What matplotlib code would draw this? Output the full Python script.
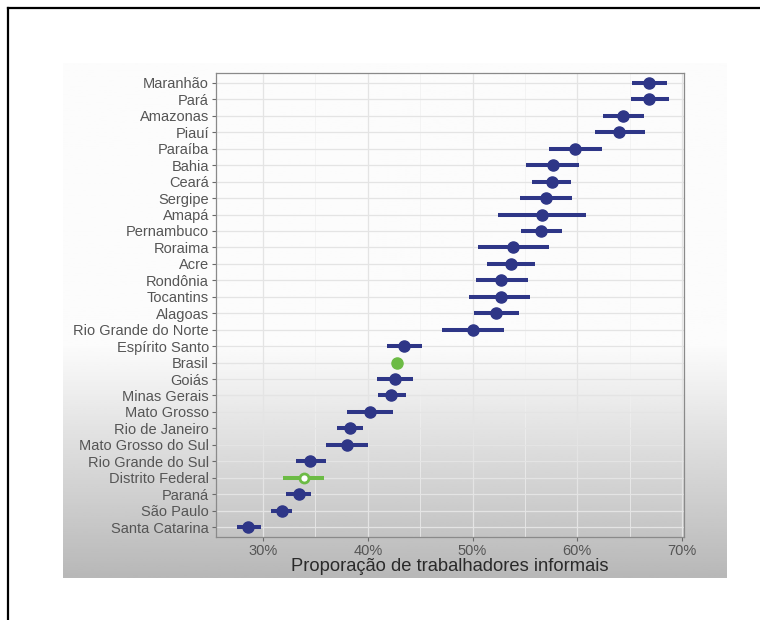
import numpy as np
import matplotlib
matplotlib.use("Agg")
import matplotlib.pyplot as plt
from matplotlib.ticker import FuncFormatter, MultipleLocator
from matplotlib.lines import Line2D

plt.rcParams['font.family'] = ['Liberation Sans', 'DejaVu Sans']

# estados, de cima para baixo
estados = ["Maranhão", "Pará", "Amazonas", "Piauí", "Paraíba", "Bahia", "Ceará",
           "Sergipe", "Amapá", "Pernambuco", "Roraima", "Acre", "Rondônia",
           "Tocantins", "Alagoas", "Rio Grande do Norte", "Espírito Santo",
           "Brasil", "Goiás", "Minas Gerais", "Mato Grosso", "Rio de Janeiro",
           "Mato Grosso do Sul", "Rio Grande do Sul", "Distrito Federal",
           "Paraná", "São Paulo", "Santa Catarina"]
# proporcao de informais (%) e intervalo
prop = [66.9, 66.9, 64.4, 64.0, 59.8, 57.7, 57.6, 57.0, 56.6, 56.5, 53.9, 53.7,
        52.7, 52.7, 52.2, 50.0, 43.5, 42.8, 42.6, 42.2, 40.2, 38.3, 38.0, 34.5,
        33.9, 33.4, 31.8, 28.6]
lim_inf = [65.2, 65.1, 62.5, 61.7, 57.3, 55.1, 55.7, 54.5, 52.4, 54.6, 50.5, 51.4,
           50.3, 49.7, 50.1, 47.1, 41.8, 42.7, 40.9, 41.0, 38.0, 37.1, 36.0, 33.1,
           31.9, 32.2, 30.8, 27.5]
lim_sup = [68.6, 68.8, 66.4, 66.5, 62.4, 60.2, 59.4, 59.5, 60.8, 58.5, 57.3, 56.0,
           55.3, 55.5, 54.4, 53.0, 45.2, 42.9, 44.3, 43.6, 42.4, 39.5, 40.0, 36.0,
           35.8, 34.6, 32.8, 29.8]
destaque = ["Brasil", "Distrito Federal"]

W, H = 760, 620
fig = plt.figure(figsize=(7.6, 6.2), dpi=100)
fig.patch.set_facecolor("white")

# fundo da captura de tela (degradê cinza)
bg = fig.add_axes([63 / W, 1 - 578 / H, (727 - 63) / W, (578 - 63) / H])
grad = np.concatenate([np.full(140, 0.985), np.linspace(0.985, 0.72, 116)])
bg.imshow(grad[:, None], cmap="gray", vmin=0, vmax=1, aspect="auto",
          extent=[0, 1, 0, 1])
bg.axis("off")

ax = fig.add_axes([216 / W, 1 - 537 / H, (684 - 216) / W, (537 - 73) / H])
ax.set_facecolor("none")

n = len(estados)
ypos = np.arange(n)[::-1]
navy = "#2e3687"
verde = "#6cbb45"
for i, est in enumerate(estados):
    y = ypos[i]
    cor = verde if est in destaque else navy
    ax.plot([lim_inf[i], lim_sup[i]], [y, y], color=cor, lw=2.9,
            solid_capstyle="butt", zorder=3)
    if est == "Distrito Federal":
        ax.plot(prop[i], y, "o", ms=6.5, mfc="white", mec=verde, mew=2, zorder=4)
    else:
        ax.plot(prop[i], y, "o", ms=8, color=cor, zorder=4)

ax.set_yticks(ypos)
ax.set_yticklabels(estados)
ax.set_ylim(-0.6, n - 0.4)
ax.set_xlim(25.5, 70.2)
ax.xaxis.set_major_locator(MultipleLocator(10))
ax.xaxis.set_minor_locator(MultipleLocator(5))
ax.xaxis.set_major_formatter(FuncFormatter(lambda v, p: f"{v:.0f}%"))

ax.grid(True, which="major", color="#e4e4e4", lw=0.9, zorder=0)
ax.grid(True, which="minor", axis="x", color="#f0f0f0", lw=0.5, zorder=0)
ax.set_axisbelow(True)
for s in ax.spines.values():
    s.set_color("#8a8a8a")
    s.set_linewidth(0.9)
ax.tick_params(axis="both", which="major", length=3, width=0.8, color="#6a6a6a",
               labelsize=10.5, labelcolor="#555555", pad=2)
ax.tick_params(axis="x", which="minor", length=0)
ax.set_xlabel("Proporação de trabalhadores informais", fontsize=13.2,
              color="#2a2a2a", labelpad=0)

# moldura preta
fig.add_artist(Line2D([8 / W, 1], [1 - 8 / H, 1 - 8 / H], color="black", lw=1.6))
fig.add_artist(Line2D([8 / W, 8 / W], [0, 1 - 8 / H], color="black", lw=1.6))

fig.savefig("out.png", dpi=100)
